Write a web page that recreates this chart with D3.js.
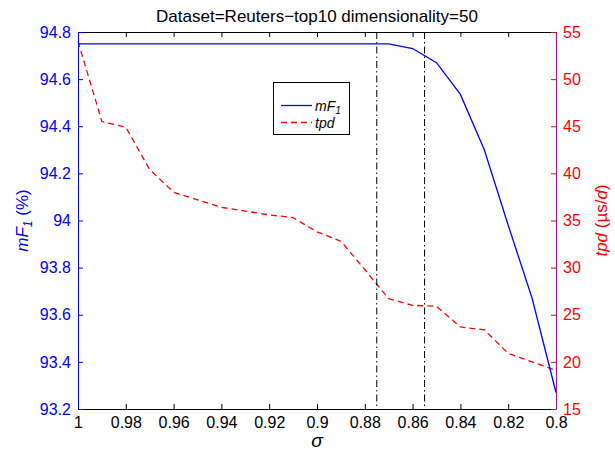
<!DOCTYPE html>
<html><head><meta charset="utf-8">
<script src="https://cdn.jsdelivr.net/npm/d3@7"></script>
<style>body{margin:0;background:#fff}svg{display:block}</style>
</head><body>
<svg id="c" width="615" height="452"></svg>
<script>
const sigma = [1, 0.99, 0.98, 0.97, 0.96, 0.95, 0.94, 0.93, 0.92, 0.91, 0.90, 0.89, 0.88, 0.87, 0.86, 0.85, 0.84, 0.83, 0.82, 0.81, 0.80];
const mF1 = [94.75, 94.75, 94.75, 94.75, 94.75, 94.75, 94.75, 94.75, 94.75, 94.75, 94.75, 94.75, 94.75, 94.75, 94.73, 94.67, 94.535, 94.30, 93.98, 93.67, 93.27];
const tpd = [54.0, 45.5, 44.9, 40.4, 38.0, 37.2, 36.4, 36.0, 35.6, 35.3, 33.8, 32.8, 29.8, 26.7, 26.0, 25.9, 23.7, 23.4, 20.9, 20.0, 19.1];
const thresholds = [0.875, 0.855];
const xTicks = [1, 0.98, 0.96, 0.94, 0.92, 0.9, 0.88, 0.86, 0.84, 0.82, 0.8];
const xTickLabels = ["1", "0.98", "0.96", "0.94", "0.92", "0.9", "0.88", "0.86", "0.84", "0.82", "0.8"];
const leftTicks = [93.2, 93.4, 93.6, 93.8, 94, 94.2, 94.4, 94.6, 94.8];
const leftTickLabels = ["93.2", "93.4", "93.6", "93.8", "94", "94.2", "94.4", "94.6", "94.8"];
const rightTicks = [15, 20, 25, 30, 35, 40, 45, 50, 55];
const rightTickLabels = ["15", "20", "25", "30", "35", "40", "45", "50", "55"];
const titleText = "Dataset=Reuters\u2212top10 dimensionality=50";

const FONT = "'Liberation Sans', Arial, Helvetica, sans-serif";
const L = 78, R = 556, T = 32, B = 409;
const BLUE = "#0000ff", RED = "#ff0000", PURPLE = "#9b1a82";

const svg = d3.select("#c");
svg.append("rect").attr("width", 615).attr("height", 452).attr("fill", "#fff");

const x = d3.scaleLinear().domain([1, 0.8]).range([L, R]);
const yL = d3.scaleLinear().domain([93.2, 94.8]).range([B, T]);
const yR = d3.scaleLinear().domain([15, 55]).range([B, T]);

const idx = d3.range(sigma.length);

// tpd red dashed
svg.append("path")
  .attr("d", d3.line().x(i => x(sigma[i])).y(i => yR(tpd[i]))(idx))
  .attr("fill", "none").attr("stroke", RED).attr("stroke-width", 1.3)
  .attr("stroke-dasharray", "6,4");

// mF1 blue solid
svg.append("path")
  .attr("d", d3.line().x(i => x(sigma[i])).y(i => yL(mF1[i]))(idx))
  .attr("fill", "none").attr("stroke", BLUE).attr("stroke-width", 1.3);

// threshold dash-dot lines
svg.selectAll(".thr").data(thresholds).enter().append("line")
  .attr("x1", d => x(d)).attr("x2", d => x(d))
  .attr("y1", T).attr("y2", B)
  .attr("stroke", "#000").attr("stroke-width", 1)
  .attr("stroke-dasharray", "7,3,1.5,3");

function styleAxis(g, color, size) {
  g.selectAll("text").attr("font-family", FONT).attr("font-size", size).attr("fill", color);
  g.selectAll(".tick line").attr("stroke", color);
  g.select(".domain").attr("stroke", color);
}

// bottom axis
const gB = svg.append("g").attr("transform", `translate(0,${B})`)
  .call(d3.axisBottom(x).tickValues(xTicks).tickFormat((d, i) => xTickLabels[i])
    .tickSizeInner(-5).tickSizeOuter(0).tickPadding(8));
styleAxis(gB, "#000", 16);

// top axis (ticks only, no labels)
const gT = svg.append("g").attr("transform", `translate(0,${T})`)
  .call(d3.axisTop(x).tickValues(xTicks).tickFormat("")
    .tickSizeInner(-5).tickSizeOuter(0));
styleAxis(gT, "#000", 16);

// left axis
const gL = svg.append("g").attr("transform", `translate(${L},0)`)
  .call(d3.axisLeft(yL).tickValues(leftTicks).tickFormat((d, i) => leftTickLabels[i])
    .tickSizeInner(-5).tickSizeOuter(0).tickPadding(7));
styleAxis(gL, BLUE, 16);

// right axis
const gR = svg.append("g").attr("transform", `translate(${R},0)`)
  .call(d3.axisRight(yR).tickValues(rightTicks).tickFormat((d, i) => rightTickLabels[i])
    .tickSizeInner(-5).tickSizeOuter(0).tickPadding(7));
styleAxis(gR, RED, 16);
gR.select(".domain").attr("stroke", PURPLE);

// title
svg.append("text").attr("x", (L + R) / 2).attr("y", 22)
  .attr("text-anchor", "middle").attr("font-family", FONT).attr("font-size", 17)
  .attr("fill", "#000").text(titleText);

// x label
svg.append("text").attr("x", (L + R) / 2).attr("y", 447)
  .attr("text-anchor", "middle").attr("font-family", FONT).attr("font-size", 19)
  .attr("font-style", "italic").attr("fill", "#000").text("\u03c3");

// left y label
const ly = svg.append("text").attr("transform", `translate(28,${(T + B) / 2}) rotate(-90)`)
  .attr("text-anchor", "middle").attr("font-family", FONT).attr("font-size", 17).attr("fill", BLUE);
ly.append("tspan").attr("font-style", "italic").text("mF");
ly.append("tspan").attr("font-style", "italic").attr("font-size", 12).attr("dy", 4).text("1");
ly.append("tspan").attr("dy", -4).text(" (%)");

// right y label
const ry = svg.append("text").attr("transform", `translate(607,${(T + B) / 2}) rotate(-90)`)
  .attr("text-anchor", "middle").attr("font-family", FONT).attr("font-size", 17).attr("fill", RED);
ry.append("tspan").attr("font-style", "italic").text("tpd");
ry.append("tspan").text(" (\u00b5s/");
ry.append("tspan").attr("font-style", "italic").text("d");
ry.append("tspan").text(")");

// legend
const lg = svg.append("g");
lg.append("rect").attr("x", 273.5).attr("y", 82.5).attr("width", 76).attr("height", 52)
  .attr("fill", "#fff").attr("stroke", "#000").attr("stroke-width", 1);
const legendItems = [
  { label: "mF", sub: "1", color: BLUE, dash: null },
  { label: "tpd", sub: null, color: RED, dash: "6,4" }
];
legendItems.forEach((it, i) => {
  const yy = 105.5 + i * 17;
  const ln = lg.append("line").attr("x1", 281).attr("x2", 312).attr("y1", yy).attr("y2", yy)
    .attr("stroke", it.color).attr("stroke-width", 1.3);
  if (it.dash) ln.attr("stroke-dasharray", it.dash);
  const t = lg.append("text").attr("x", 315).attr("y", yy + 5)
    .attr("font-family", FONT).attr("font-size", 14).attr("font-style", "italic").attr("fill", "#000");
  t.append("tspan").text(it.label);
  if (it.sub) t.append("tspan").attr("font-size", 10).attr("dy", 3).text(it.sub);
});
</script>
</body></html>
